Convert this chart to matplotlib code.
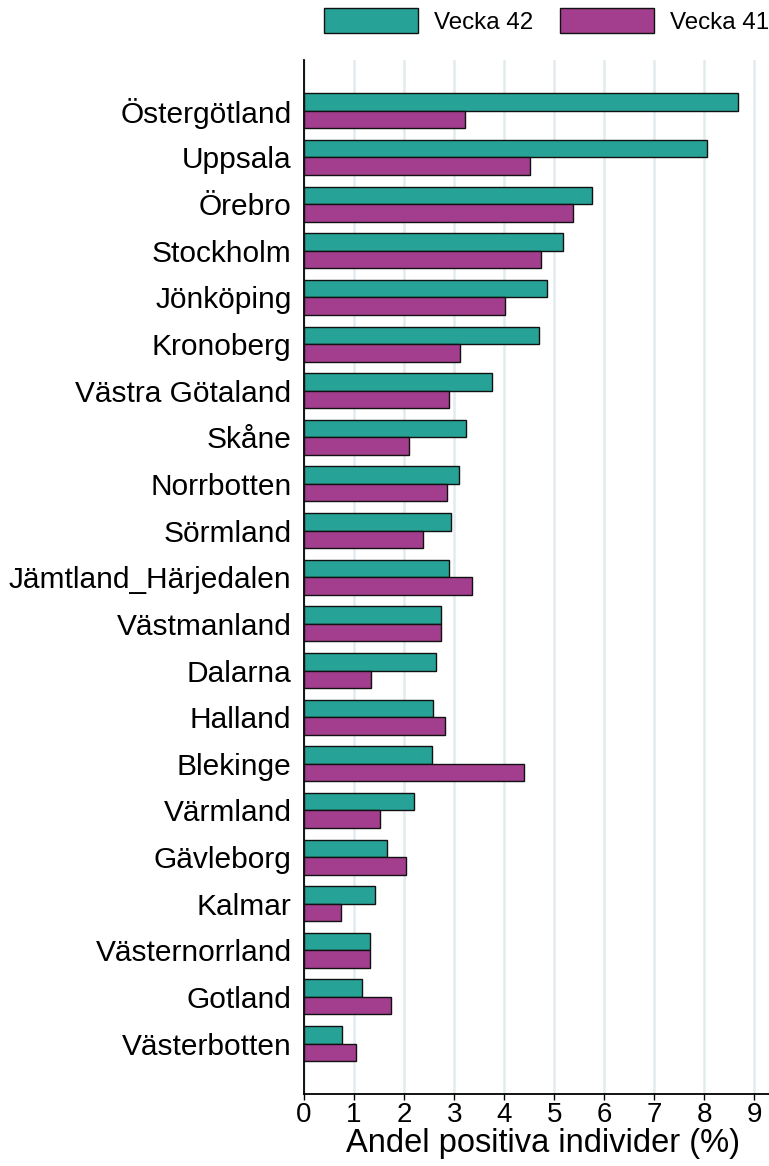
import numpy as np
import matplotlib
matplotlib.use("Agg")
import matplotlib.pyplot as plt

plt.rcParams['font.family'] = ['Liberation Sans', 'DejaVu Sans']

regions = ["Östergötland", "Uppsala", "Örebro", "Stockholm", "Jönköping",
           "Kronoberg", "Västra Götaland", "Skåne", "Norrbotten", "Sörmland",
           "Jämtland_Härjedalen", "Västmanland", "Dalarna", "Halland",
           "Blekinge", "Värmland", "Gävleborg", "Kalmar", "Västernorrland",
           "Gotland", "Västerbotten"]
vecka42 = [8.68, 8.06, 5.76, 5.18, 4.86, 4.70, 3.75, 3.24, 3.10, 2.94,
           2.90, 2.73, 2.64, 2.58, 2.56, 2.20, 1.66, 1.42, 1.32, 1.16, 0.76]
vecka41 = [3.22, 4.52, 5.38, 4.74, 4.02, 3.11, 2.90, 2.09, 2.86, 2.38,
           3.36, 2.74, 1.34, 2.82, 4.40, 1.52, 2.04, 0.74, 1.32, 1.74, 1.04]

teal = "#26a396"
purple = "#a33d8e"

W, H = 769, 1166
fig = plt.figure(figsize=(W / 100, H / 100), dpi=100)
ax = fig.add_axes([304 / W, (H - 1094) / H, (W - 304) / W, (1094 - 60) / H])

y = np.arange(len(regions))
h = 0.375
ax.barh(y - h / 2, vecka42, height=h, color=teal, edgecolor="#111111",
        linewidth=1, label="Vecka 42", zorder=3)
ax.barh(y + h / 2, vecka41, height=h, color=purple, edgecolor="#111111",
        linewidth=1, label="Vecka 41", zorder=3)

ax.set_ylim(len(regions) - 1 + 1.08, -1.09)
ax.set_xlim(0, 9.29)
ax.set_yticks(y)
ax.set_yticklabels(regions, fontsize=21.5)
ax.tick_params(axis='y', length=0, pad=9)
ax.set_xticks(range(10))
ax.tick_params(axis='x', labelsize=20, length=4, width=1, pad=2)
ax.set_xlabel("Andel positiva individer (%)", fontsize=23.5, labelpad=0)
ax.xaxis.set_label_coords(0.515, -0.033)

ax.grid(axis='x', color="#e2ecef", linewidth=1.8, zorder=0)
ax.set_axisbelow(True)
for s in ["top", "right"]:
    ax.spines[s].set_visible(False)
for s in ["left", "bottom"]:
    ax.spines[s].set_linewidth(1.3)

fig.legend(loc="center right", bbox_to_anchor=(1.0, 1 - 21 / H), ncol=2,
           frameon=False, fontsize=17.4, handlelength=3.9, handleheight=1.2,
           handletextpad=0.65, columnspacing=1.1, borderpad=0,
           borderaxespad=0)

fig.savefig("out.png", dpi=100)
